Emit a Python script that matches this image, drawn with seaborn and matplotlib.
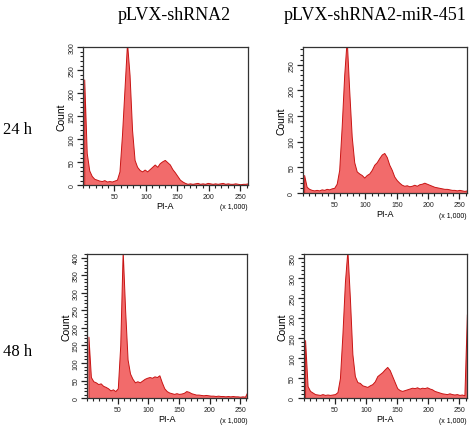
import numpy as np
import matplotlib
matplotlib.use('Agg')
import matplotlib.pyplot as plt
import seaborn as sns
from matplotlib.ticker import MultipleLocator

# Данные: высоты гистограмм (бины по 4 единицы PI-A, x 1,000)
bin_edges = list(range(0, 268, 4))

counts_24h_shrna = [230, 70, 32, 20, 14, 12, 10, 9, 11, 8, 9, 8, 10, 12, 30, 110,
                    210, 310, 240, 120, 55, 40, 33, 30, 34, 30, 35, 40, 45, 40, 48, 52,
                    55, 50, 45, 35, 28, 20, 12, 8, 5, 3, 4, 3, 4, 5, 3, 4,
                    3, 5, 4, 3, 4, 3, 4, 5, 3, 4, 3, 3, 4, 3, 2, 3, 3, 4]
counts_24h_mir = [35, 12, 8, 6, 5, 6, 5, 7, 6, 8, 7, 9, 10, 18, 45, 130,
                  230, 300, 200, 110, 60, 42, 38, 35, 30, 35, 38, 45, 55, 60, 68, 75,
                  78, 70, 55, 45, 32, 25, 20, 16, 14, 15, 13, 14, 16, 14, 17, 18,
                  20, 18, 16, 14, 12, 11, 10, 9, 8, 8, 7, 6, 6, 5, 6, 5, 4, 5]
counts_48h_shrna = [175, 60, 48, 45, 40, 42, 35, 32, 28, 22, 25, 20, 28, 150, 420, 250,
                    110, 70, 55, 45, 48, 45, 50, 55, 58, 60, 58, 62, 60, 65, 45, 28,
                    20, 16, 14, 12, 14, 12, 13, 15, 20, 18, 14, 12, 10, 10, 9, 8,
                    9, 8, 7, 7, 6, 7, 6, 6, 5, 6, 5, 6, 5, 5, 4, 5, 4, 18]
counts_48h_mir = [145, 30, 18, 14, 10, 9, 8, 10, 8, 9, 8, 9, 10, 15, 50, 160,
                  290, 370, 250, 110, 55, 40, 38, 32, 30, 28, 32, 35, 42, 55, 60, 65,
                  72, 78, 70, 55, 40, 25, 20, 18, 20, 22, 24, 26, 25, 27, 24, 26,
                  25, 27, 24, 22, 18, 16, 14, 12, 11, 10, 12, 10, 9, 10, 8, 9, 7, 210]

col_titles = ['pLVX-shRNA2', 'pLVX-shRNA2-miR-451']
row_titles = ['24 h', '48 h']
y_limits = [300, 285, 410, 360]

sns.set_style('ticks')
plt.rcParams['font.family'] = ['Liberation Sans', 'DejaVu Sans']
plt.rcParams['text.color'] = 'black'
plt.rcParams['axes.labelcolor'] = 'black'
plt.rcParams['xtick.color'] = '#222222'
plt.rcParams['ytick.color'] = '#222222'

fig = plt.figure(figsize=(4.74, 4.31), dpi=100)

# Положение панелей (left, bottom, width, height)
pos = [(0.175, 0.568, 0.348, 0.320),
       (0.639, 0.550, 0.346, 0.339),
       (0.184, 0.074, 0.338, 0.334),
       (0.641, 0.074, 0.344, 0.334)]
data = [counts_24h_shrna, counts_24h_mir, counts_48h_shrna, counts_48h_mir]
centers = [e + 2 for e in bin_edges[:-1]]

for i in range(4):
    ax = fig.add_axes(pos[i])
    sns.histplot(x=centers, weights=data[i], bins=bin_edges, element='poly',
                 fill=True, color='#f26b6b', alpha=1, linewidth=0.7,
                 edgecolor='#c81414', ax=ax)
    ax.set_xlim(0, 262)
    ax.set_ylim(0, y_limits[i])
    ax.xaxis.set_major_locator(MultipleLocator(50))
    ax.xaxis.set_minor_locator(MultipleLocator(10))
    ax.yaxis.set_major_locator(MultipleLocator(50))
    ax.yaxis.set_minor_locator(MultipleLocator(10))
    ax.set_xticks([50, 100, 150, 200, 250])
    ax.tick_params(which='major', direction='out', length=4, width=0.9,
                   labelsize=5, pad=1.5)
    ax.tick_params(which='minor', direction='out', length=2.5, width=0.8)
    plt.setp(ax.get_yticklabels(), rotation=90, va='center')
    for s in ax.spines.values():
        s.set_visible(True)
        s.set_color('#333333')
        s.set_linewidth(0.9)
    ax.set_ylabel('Count', fontsize=7.5, labelpad=1)
    ax.set_xlabel('PI-A', fontsize=6.5, labelpad=1)
    ax.text(1.0, -0.13, '(x 1,000)', transform=ax.transAxes, ha='right',
            va='top', fontsize=5)

fig.text(0.367, 0.965, col_titles[0], ha='center', va='center', fontsize=13,
         family='Liberation Serif')
fig.text(0.791, 0.965, col_titles[1], ha='center', va='center', fontsize=13,
         family='Liberation Serif')
fig.text(0.036, 0.698, row_titles[0], ha='center', va='center', fontsize=12,
         family='Liberation Serif')
fig.text(0.036, 0.183, row_titles[1], ha='center', va='center', fontsize=12,
         family='Liberation Serif')

fig.savefig('out.png', dpi=100, facecolor='white')
